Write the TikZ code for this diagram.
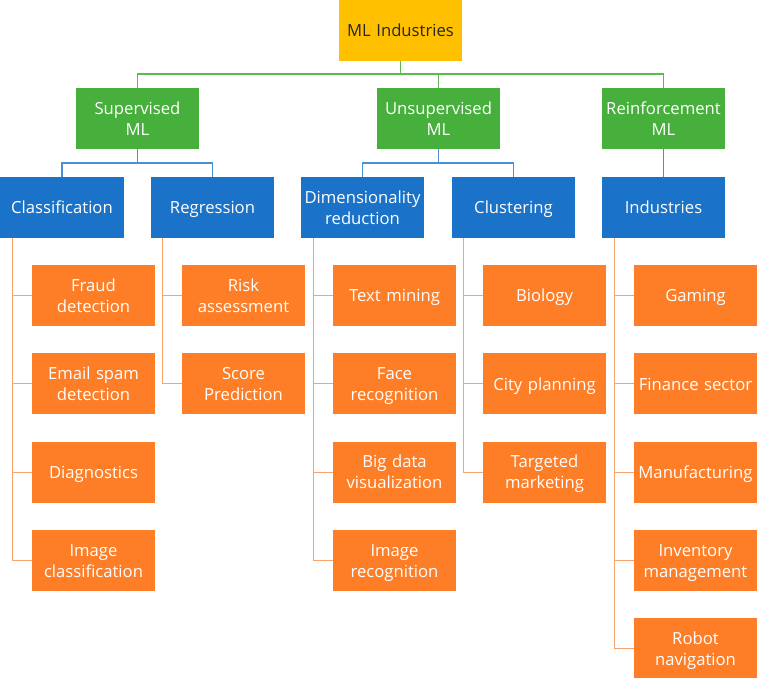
\documentclass[tikz,border=0pt]{standalone}
\usepackage{fontspec}
\setmainfont{Open Sans}
\definecolor{cyel}{HTML}{FFC000}
\definecolor{cgrn}{HTML}{47B03C}
\definecolor{cblu}{HTML}{1A73C8}
\definecolor{corg}{HTML}{FD7E27}
\definecolor{lgrn}{HTML}{5CBA4E}
\definecolor{lblu}{HTML}{4A8ED8}
\definecolor{lorg}{HTML}{F9A46C}
\tikzset{
  box/.style={rectangle, inner sep=0pt, minimum width=92.25pt, minimum height=45.75pt,
    text width=91pt, align=center, font=\fontsize{12.5pt}{15.75pt}\selectfont, text=white,
    execute at begin node=\rule{0pt}{14pt}, execute at end node=\rule[-4.7pt]{0pt}{4.7pt}},
  topbox/.style={box, fill=cyel, text=black!85},
  gbox/.style={box, fill=cgrn},
  bbox/.style={box, fill=cblu},
  obox/.style={box, fill=corg},
  gl/.style={draw=lgrn, line width=0.8pt},
  bl/.style={draw=lblu, line width=0.8pt},
  ol/.style={draw=lorg, line width=0.8pt},
}
\begin{document}
\begin{tikzpicture}[x=0.75pt,y=-0.75pt]
\useasboundingbox (0,0) rectangle (758,678);
% top
\node[topbox] (top) at (400.5,30.5) {ML Industries};
% green
\node[gbox] (sup) at (137.5,118.5) {Supervised\\ML};
\node[gbox] (uns) at (438.5,118.5) {Unsupervised\\ML};
\node[gbox] (rei) at (663.5,118.5) {Reinforcement\\ML};
% blue
\node[bbox] (cla) at (62,207.5) {Classification};
\node[bbox] (reg) at (212.5,207.5) {Regression};
\node[bbox] (dim) at (362.5,207.5) {Dimensionality\\reduction};
\node[bbox] (clu) at (513.5,207.5) {Clustering};
\node[bbox] (ind) at (663.5,207.5) {Industries};
% orange column 1
\node[obox] (o11) at (93.5,295.5) {Fraud\\detection};
\node[obox] (o12) at (93.5,383.8) {Email spam\\detection};
\node[obox] (o13) at (93.5,472.1) {Diagnostics};
\node[obox] (o14) at (93.5,560.4) {Image\\classification};
% column 2
\node[obox] (o21) at (243.5,295.5) {Risk\\assessment};
\node[obox] (o22) at (243.5,383.8) {Score\\Prediction};
% column 3
\node[obox] (o31) at (394.5,295.5) {Text mining};
\node[obox] (o32) at (394.5,383.8) {Face\\recognition};
\node[obox] (o33) at (394.5,472.1) {Big data\\visualization};
\node[obox] (o34) at (394.5,560.4) {Image\\recognition};
% column 4
\node[obox] (o41) at (544.5,295.5) {Biology};
\node[obox] (o42) at (544.5,383.8) {City planning};
\node[obox] (o43) at (544.5,472.1) {Targeted\\marketing};
% column 5
\node[obox] (o51) at (695.5,295.5) {Gaming};
\node[obox] (o52) at (695.5,383.8) {Finance sector};
\node[obox] (o53) at (695.5,472.1) {Manufacturing};
\node[obox] (o54) at (695.5,560.4) {Inventory\\management};
\node[obox] (o55) at (695.5,648.7) {Robot\\navigation};
% bus coordinates
\coordinate (gbus) at (0,74);
\coordinate (bbus) at (0,163);
\coordinate (c1) at (12.3,238);
\coordinate (c2) at (162.3,238);
\coordinate (c3) at (313.3,238);
\coordinate (c4) at (463.3,238);
\coordinate (c5) at (614.3,238);
% green connectors
\foreach \t in {sup,uns,rei}
  \draw[gl] (top.south) |- (gbus -| \t.north) -- (\t.north);
% blue connectors
\foreach \t in {cla,reg}
  \draw[bl] (sup.south) |- (bbus -| \t.north) -- (\t.north);
\foreach \t in {dim,clu}
  \draw[bl] (uns.south) |- (bbus -| \t.north) -- (\t.north);
\draw[bl] (rei.south) -- (ind.north);
% orange connectors
\foreach \t in {o11,o12,o13,o14}
  \draw[ol] (c1) |- (\t.west);
\foreach \t in {o21,o22}
  \draw[ol] (c2) |- (\t.west);
\foreach \t in {o31,o32,o33,o34}
  \draw[ol] (c3) |- (\t.west);
\foreach \t in {o41,o42,o43}
  \draw[ol] (c4) |- (\t.west);
\foreach \t in {o51,o52,o53,o54,o55}
  \draw[ol] (c5) |- (\t.west);
\end{tikzpicture}
\end{document}
